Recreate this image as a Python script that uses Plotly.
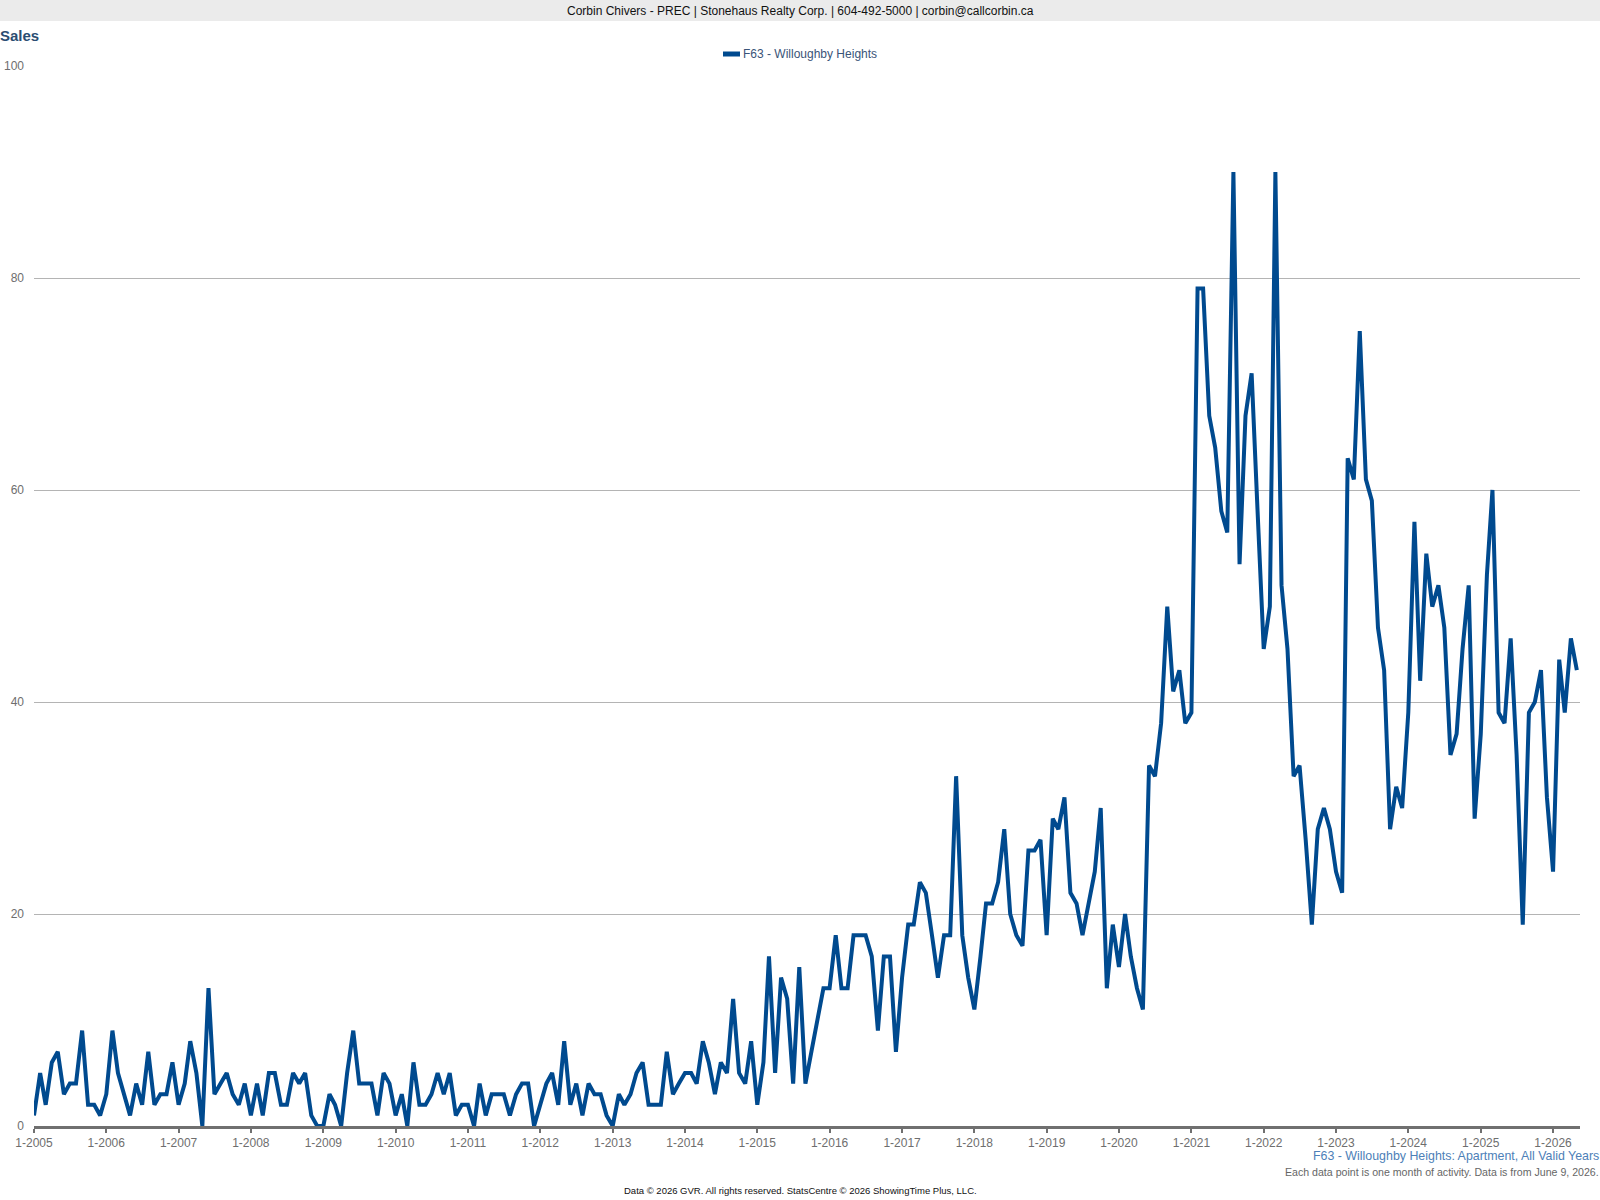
import pandas as pd
import plotly.graph_objects as go

# monthly sales, F63 - Willoughby Heights, apartments (Jan 2005 .. May 2026)
start_month = "2005-01-01"
sales = [
    1, 5, 2, 6, 7, 3, 4, 4, 9, 2, 2, 1,            # 2005
    3, 9, 5, 3, 1, 4, 2, 7, 2, 3, 3, 6,            # 2006
    2, 4, 8, 5, 0, 13, 3, 4, 5, 3, 2, 4,           # 2007
    1, 4, 1, 5, 5, 2, 2, 5, 4, 5, 1, 0,            # 2008
    0, 3, 2, 0, 5, 9, 4, 4, 4, 1, 5, 4,            # 2009
    1, 3, 0, 6, 2, 2, 3, 5, 3, 5, 1, 2,            # 2010
    2, 0, 4, 1, 3, 3, 3, 1, 3, 4, 4, 0,            # 2011
    2, 4, 5, 2, 8, 2, 4, 1, 4, 3, 3, 1,            # 2012
    0, 3, 2, 3, 5, 6, 2, 2, 2, 7, 3, 4,            # 2013
    5, 5, 4, 8, 6, 3, 6, 5, 12, 5, 4, 8,           # 2014
    2, 6, 16, 5, 14, 12, 4, 15, 4, 7, 10, 13,      # 2015
    13, 18, 13, 13, 18, 18, 18, 16, 9, 16, 16, 7,  # 2016
    14, 19, 19, 23, 22, 18, 14, 18, 18, 33, 18, 14,  # 2017
    11, 16, 21, 21, 23, 28, 20, 18, 17, 26, 26, 27,  # 2018
    18, 29, 28, 31, 22, 21, 18, 21, 24, 30, 13, 19,  # 2019
    15, 20, 16, 13, 11, 34, 33, 38, 49, 41, 43, 38,  # 2020
    39, 79, 79, 67, 64, 58, 56, 90, 53, 67, 71, 58,  # 2021
    45, 49, 90, 51, 45, 33, 34, 27, 19, 28, 30, 28,  # 2022
    24, 22, 63, 61, 75, 61, 59, 47, 43, 28, 32, 30,  # 2023
    39, 57, 42, 54, 49, 51, 47, 35, 37, 45, 51, 29,  # 2024
    37, 52, 60, 39, 38, 46, 35, 19, 39, 40, 43, 31,  # 2025
    24, 44, 39, 46, 43,                              # 2026
]
tick_years = list(range(2005, 2027))
y_ticks = [0, 20, 40, 60, 80, 100]

months = pd.date_range(start_month, periods=len(sales), freq="MS")

W, H = 1600, 1200
L, R, T, B = 34, 20, 66, 74
PW, PH = W - L - R, H - T - B


def px(x):
    return (x - L) / PW


def py(y):
    return (H - B - y) / PH


LINE_COLOR = "#004a8f"
GREY_TEXT = "#6e6e6e"
FONT = "Liberation Sans"

fig = go.Figure()
fig.add_trace(go.Scatter(
    x=months, y=sales, mode="lines",
    line=dict(color=LINE_COLOR, width=4),
    name="F63 - Willoughby Heights",
    showlegend=False,
))

fig.update_layout(
    width=W, height=H,
    margin=dict(l=L, r=R, t=T, b=B, autoexpand=False),
    paper_bgcolor="white", plot_bgcolor="white",
    font=dict(family=FONT, size=12, color=GREY_TEXT),
)

fig.update_xaxes(
    range=["2005-01-01", "2026-05-17"],
    tickvals=[f"{y}-01-01" for y in tick_years],
    ticktext=[f"1-{y}" for y in tick_years],
    showgrid=False, zeroline=False,
    showline=True, linecolor="#707070", linewidth=2.5,
    ticks="outside", ticklen=4, tickwidth=2, tickcolor="#707070",
    tickfont=dict(size=12, color=GREY_TEXT),
    automargin=False,
)
fig.update_yaxes(
    range=[0, 100], tickvals=y_ticks,
    showgrid=True, gridcolor="#b4b4b4", gridwidth=1,
    zeroline=False, showline=False,
    ticklabelstandoff=9,
    tickfont=dict(size=12, color=GREY_TEXT),
    automargin=False,
)

# header band
fig.add_shape(type="rect", xref="paper", yref="paper",
              x0=px(0), x1=px(W), y0=py(21), y1=py(0),
              fillcolor="#ebebeb", line_width=0, layer="below")

annos = [
    dict(text="Corbin Chivers - PREC | Stonehaus Realty Corp. | 604-492-5000 | corbin@callcorbin.ca",
         x=px(800), y=py(11), xanchor="center", font=dict(size=12, color="#111111")),
    dict(text="<b>Sales</b>", x=px(-2), y=py(35), xanchor="left",
         font=dict(size=15, color="#2b4d72")),
    dict(text="F63 - Willoughby Heights", x=px(741), y=py(54), xanchor="left",
         font=dict(size=12, color="#3a5478")),
    dict(text="F63 - Willoughby Heights: Apartment, All Valid Years", x=px(1601), y=py(1156),
         xanchor="right", font=dict(size=12.4, color="#4d7fb8")),
    dict(text="Each data point is one month of activity. Data is from June 9, 2026.",
         x=px(1601), y=py(1172), xanchor="right", font=dict(size=10.6, color="#666666")),
    dict(text="Data © 2026 GVR. All rights reserved. StatsCentre © 2026 ShowingTime Plus, LLC.",
         x=px(800), y=py(1190), xanchor="center", font=dict(size=9.5, color="#111111")),
]
for a in annos:
    fig.add_annotation(xref="paper", yref="paper", yanchor="middle", showarrow=False, **a)

# legend swatch
fig.add_shape(type="line", xref="paper", yref="paper",
              x0=px(723), x1=px(740), y0=py(54), y1=py(54),
              line=dict(color=LINE_COLOR, width=5))

# page has default body margin; drop it so the 1600x1200 figure fills the window
fig.write_html("out.html", config={"displayModeBar": False},
               post_script="document.body.style.margin='0';document.body.style.overflow='hidden';")
